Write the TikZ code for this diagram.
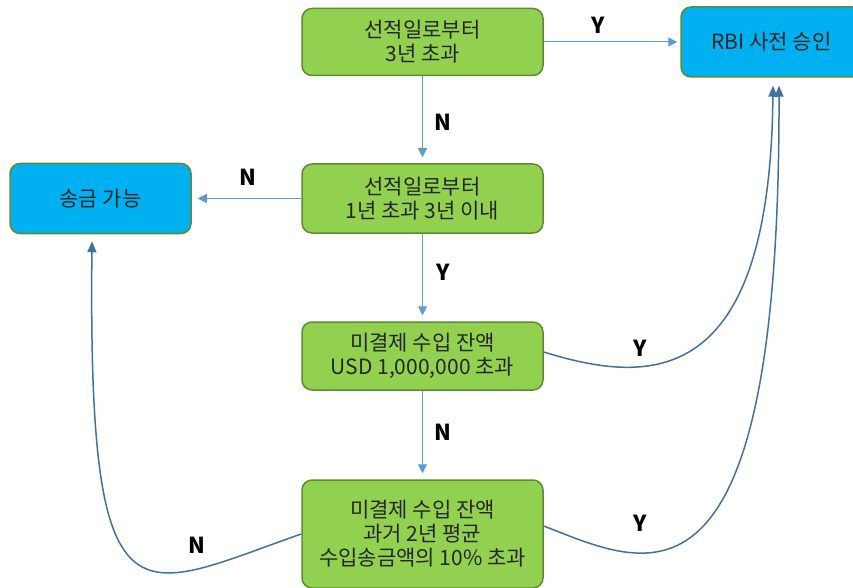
\documentclass[tikz,border=0pt]{standalone}
\usepackage{fontspec}
\setmainfont{Noto Sans CJK KR}
\usetikzlibrary{arrows.meta}
\definecolor{boxgreen}{HTML}{92D050}
\definecolor{boxblue}{HTML}{00B0F0}
\definecolor{edgegreen}{HTML}{5E8C31}
\definecolor{thinblue}{HTML}{5B9BD5}
\definecolor{curveblue}{HTML}{41719C}
\begin{document}
\begin{tikzpicture}[x=1pt,y=-1pt,
  box/.style={draw=edgegreen, line width=1.5pt, rounded corners=10pt, align=center,
    inner sep=0pt, font=\fontsize{21}{24}\selectfont, text=black!85},
  cond/.style={box, fill=boxgreen, minimum width=241pt},
  result/.style={box, fill=boxblue, minimum width=181pt, minimum height=70pt},
  flow/.style={draw=thinblue, line width=1pt, -{Triangle[length=9pt,width=9pt]}},
  loopback/.style={draw=curveblue, line width=1.5pt, -{Triangle[length=11pt,width=9pt]}},
  yn/.style={font=\fontsize{22}{22}\selectfont\bfseries, inner sep=0pt}]
\useasboundingbox (0,0) rectangle (853,588);

% decision boxes
\node[cond, minimum height=67pt] (b1) at (422.5,42) {선적일로부터\\3년 초과};
\node[cond, minimum height=69pt] (b2) at (422.5,198.5) {선적일로부터\\1년 초과 3년 이내};
\node[cond, minimum height=68pt] (b3) at (422.5,356) {미결제 수입 잔액\\USD 1,000,000 초과};
\node[cond, minimum height=108pt] (b4) at (422.5,534) {미결제 수입 잔액\\과거 2년 평균\\수입송금액의 10\% 초과};

% outcomes
\node[result] (rbi) at (771.5,42) {RBI 사전 승인};
\node[result] (sg) at (100.5,198.5) {송금 가능};

% straight connectors
\draw[flow, shorten >=3pt] (b1.east) -- (rbi.west);
\draw[flow, shorten >=6pt] (b1.south) -- (b2.north);
\draw[flow, shorten >=6pt] (b2.west) -- (sg.east);
\draw[flow, shorten >=6pt] (b2.south) -- (b3.north);
\draw[flow, shorten >=6pt] (b3.south) -- (b4.north);

% curved connectors
\draw[loopback] ([yshift=4pt]b3.east) .. controls (650,385) and (770,390) .. ([xshift=1.5pt,yshift=-8pt]rbi.south);
\draw[loopback] ([yshift=8pt]b4.east) .. controls (645,565) and (780,640) .. ([xshift=7.5pt,yshift=-8pt]rbi.south);
\draw[loopback] (b4.west) .. controls (135,592) and (88,640) .. ([xshift=-8.5pt,yshift=-7pt]sg.south);

% branch labels
\node[yn] (l1) at (598,25) {Y};
\node[yn] (l2) at (443,122) {N};
\node[yn] (l3) at (248,177) {N};
\node[yn] (l4) at (443,272) {Y};
\node[yn] (l5) at (640,348) {Y};
\node[yn] (l6) at (443,432) {N};
\node[yn] (l7) at (640,523) {Y};
\node[yn] (l8) at (197,545) {N};
\end{tikzpicture}
\end{document}
